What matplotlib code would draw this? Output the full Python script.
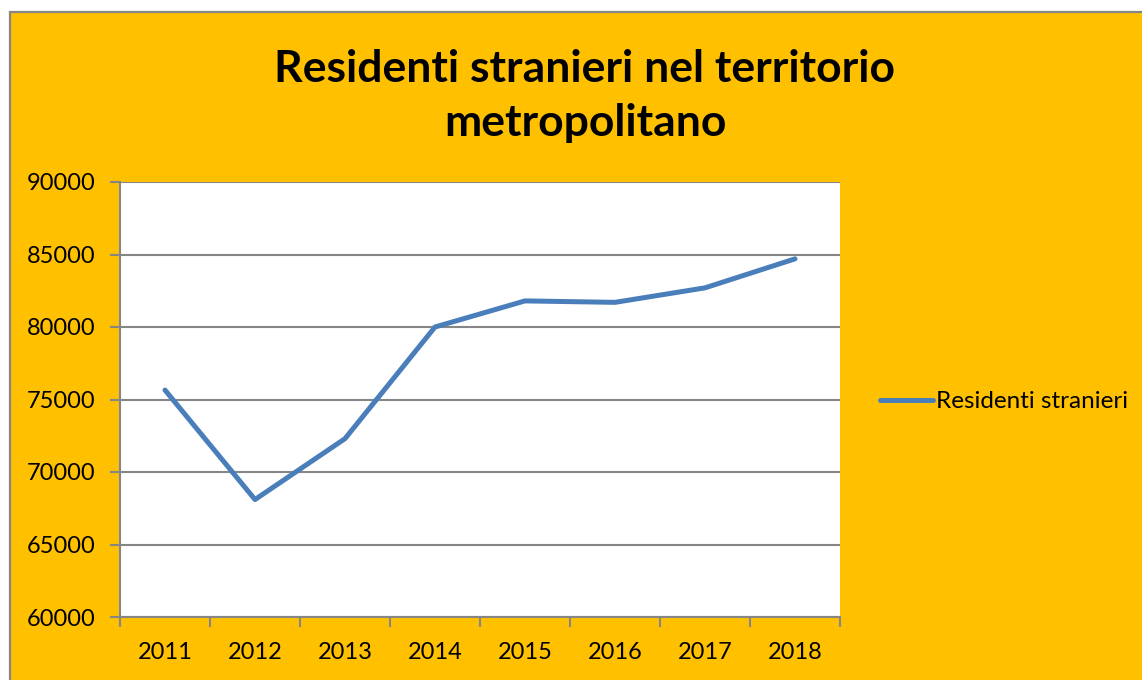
import matplotlib.pyplot as plt
from matplotlib.patches import Rectangle

years = ['2011', '2012', '2013', '2014', '2015', '2016', '2017', '2018']
residenti = [75650, 68100, 72300, 80000, 81800, 81700, 82700, 84700]
y_ticks = [60000, 65000, 70000, 75000, 80000, 85000, 90000]

orange = '#FFC000'
blue = '#4A7EBB'
grey = '#868686'

plt.rcParams['font.family'] = ['Lato', 'DejaVu Sans']

fig = plt.figure(figsize=(11.42, 6.8), dpi=100)
fig.patch.set_facecolor('white')

# chart area with grey frame on the top and left (rest is cut off)
fig.patches.append(Rectangle((10 / 1142, -0.1), 1.2, 1 - 12 / 680 + 0.1,
                             transform=fig.transFigure, facecolor=orange,
                             edgecolor=grey, linewidth=1.6, zorder=0))

ax = fig.add_axes([120 / 1142, 1 - 617 / 680, 720 / 1142, 435 / 680])
ax.set_zorder(2)
ax.set_facecolor('white')

x = list(range(len(years)))
ax.plot(x, residenti, color=blue, linewidth=3.6, solid_capstyle='round',
        solid_joinstyle='round', label='Residenti stranieri', zorder=3)

ax.set_xlim(-0.5, len(years) - 0.5)
ax.set_ylim(60000, 90000)
ax.set_yticks(y_ticks)
ax.set_xticks(x)
ax.set_xticklabels(years)
ax.set_xticks([i - 0.5 for i in range(len(years) + 1)], minor=True)
ax.tick_params(axis='x', which='major', length=0, pad=18, labelsize=17)
ax.tick_params(axis='x', which='minor', length=7, width=1.5, color=grey)
ax.tick_params(axis='y', length=7, width=1.5, color=grey, labelsize=17, pad=11)
ax.yaxis.grid(True, color=grey, linewidth=1.5)
ax.set_axisbelow(True)

for s in ['top', 'right']:
    ax.spines[s].set_visible(False)
for s in ['left', 'bottom']:
    ax.spines[s].set_color(grey)
    ax.spines[s].set_linewidth(1.5)

fig.text(585 / 1142, 1 - 96 / 680, 'Residenti stranieri nel territorio\nmetropolitano',
         ha='center', va='center', fontsize=32, fontweight='bold',
         linespacing=1.45, zorder=3)

leg = ax.legend(loc='center left', bbox_to_anchor=(1.025, 0.495), frameon=False,
                fontsize=17.5, handlelength=2.2, handletextpad=0.1)

fig.savefig('out.png', dpi=100, facecolor=fig.get_facecolor())
